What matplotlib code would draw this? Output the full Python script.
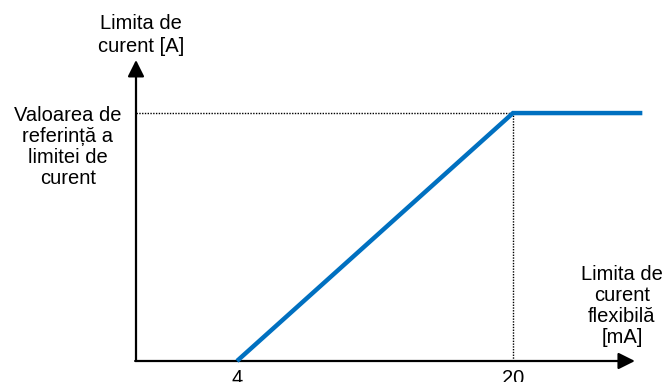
import matplotlib
matplotlib.use("Agg")
import matplotlib.pyplot as plt
from matplotlib.transforms import blended_transform_factory

plt.rcParams['font.family'] = ['Liberation Sans', 'DejaVu Sans']

# Current limit vs. flexible current-limit input (mA)
x_ma = [4, 20, 27.5]
y_limit = [0, 1, 1]
tick_vals = [4, 20]
tick_labels = ["4", "20"]

y_title = "Limita de\ncurent [A]"
x_title = "Limita de\ncurent\nflexibilă\n[mA]"
ref_label = "Valoarea de\nreferință a\nlimitei de\ncurent"

W, H = 672, 382
fig = plt.figure(figsize=(W / 100, H / 100), dpi=100)
ax = fig.add_axes([0, 0, 1, 1])
ax.set_xlim(-9.74, 29.22)
ax.set_ylim(-0.0847, 1.456)
ax.axis("off")

x0 = -1.855           # axis origin along x
x_tip = 27.07
y_tip = 1.214
blue = "#0070C0"

# axes with arrow heads
arrow = dict(arrowstyle="-|>,head_length=1.0,head_width=0.5", mutation_scale=10,
             lw=1.6, color="black", shrinkA=0, shrinkB=0)
ax.annotate("", xy=(x0, y_tip), xytext=(x0, 0), arrowprops=arrow)
ax.annotate("", xy=(x_tip, 0), xytext=(x0 - 0.05, 0), arrowprops=arrow)

# dotted guides to the reference value
ax.plot([x0, x_ma[1]], [y_limit[1], y_limit[1]], color="black", lw=1.0,
        linestyle=(0, (1, 1)))
ax.plot([x_ma[1], x_ma[1]], [0, y_limit[1]], color="black", lw=1.0,
        linestyle=(0, (1, 1)))

# characteristic
ax.plot(x_ma, y_limit, color=blue, lw=3.2, solid_capstyle="butt",
        solid_joinstyle="miter", zorder=5)

fs = 14.5
px = lambda x, y: (x / W, 1 - y / H)
ax.text(*px(141, 35), y_title, transform=ax.transAxes, ha="center", va="center",
        fontsize=fs, linespacing=1.25)
ax.text(*px(68, 147), ref_label, transform=ax.transAxes, ha="center", va="center",
        fontsize=fs, linespacing=1.13)
ax.text(*px(622, 306), x_title, transform=ax.transAxes, ha="center", va="center",
        fontsize=fs, linespacing=1.13)

tr = blended_transform_factory(ax.transData, ax.transAxes)
for v, lab in zip(tick_vals, tick_labels):
    ax.text(v, 1 - 369 / H, lab, transform=tr, ha="center", va="top", fontsize=fs)

fig.savefig("out.png", dpi=100)
